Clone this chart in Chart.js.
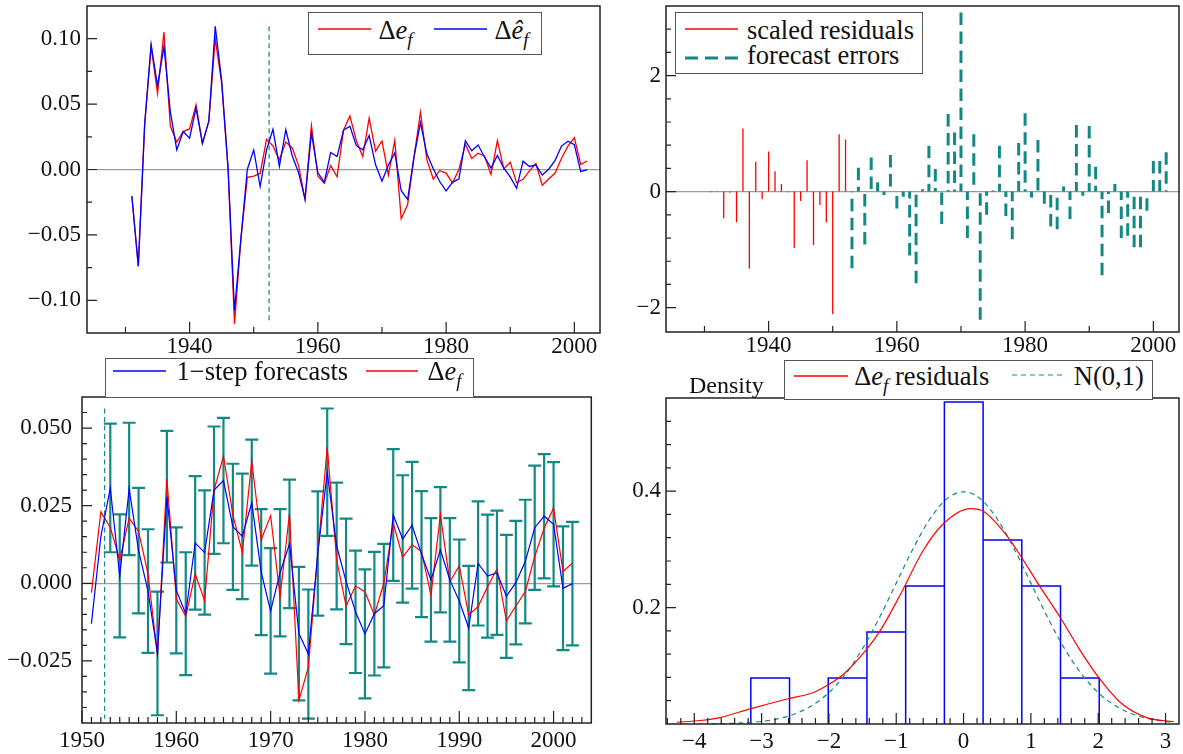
<!DOCTYPE html>
<html>
<head>
<meta charset="utf-8">
<script src="https://cdn.jsdelivr.net/npm/chart.js"></script>
<style>
  body { margin: 0; background: #fff; width: 1183px; height: 754px; position: relative; overflow: hidden;
         font-family: "Liberation Serif", "Times New Roman", serif; color: #111; }
  canvas { position: absolute; }
  .lg { position: absolute; background: #fff; border: 1.5px solid #555; box-sizing: border-box; font-size: 26.5px; line-height: 1; }
  .lg .t { position: absolute; white-space: nowrap; }
  .lg svg { position: absolute; overflow: visible; }
  sub { font-size: 0.72em; vertical-align: -0.38em; line-height: 0; }
  #density { position: absolute; left: 689px; top: 373px; font-size: 24px; line-height: 1; }
</style>
</head>
<body>
<canvas id="tl" width="610" height="370" style="left:0;top:0"></canvas>
<canvas id="tr" width="583" height="370" style="left:600px;top:0"></canvas>
<canvas id="bl" width="600" height="374" style="left:0;top:380px"></canvas>
<canvas id="br" width="583" height="374" style="left:600px;top:380px"></canvas>

<div class="lg" style="left:307.5px;top:11.5px;width:234px;height:43px">
  <svg style="left:9px;top:14.3px" width="53" height="4"><line x1="0" y1="2" x2="53" y2="2" stroke="#f00" stroke-width="1.3"/></svg>
  <span class="t" style="left:70px;top:4px">Δ<i>e</i><sub><i>f</i></sub></span>
  <svg style="left:125px;top:14.3px" width="53" height="4"><line x1="0" y1="2" x2="53" y2="2" stroke="#00f" stroke-width="1.3"/></svg>
  <span class="t" style="left:186px;top:4px">Δ<i>ê</i><sub><i>f</i></sub></span>
</div>

<div class="lg" style="left:675px;top:12px;width:248px;height:62px">
  <svg style="left:8.5px;top:13.8px" width="53" height="4"><line x1="0" y1="2" x2="53" y2="2" stroke="#f00" stroke-width="1.3"/></svg>
  <span class="t" style="left:71px;top:3.6px">scaled residuals</span>
  <svg style="left:8.5px;top:42.8px" width="53" height="4"><line x1="0" y1="2" x2="53" y2="2" stroke="#128984" stroke-width="3" stroke-dasharray="13 7"/></svg>
  <span class="t" style="left:71px;top:29.3px">forecast errors</span>
</div>

<div class="lg" style="left:104.5px;top:358px;width:369px;height:39.5px">
  <svg style="left:7.5px;top:10.2px" width="53" height="4"><line x1="0" y1="2" x2="53" y2="2" stroke="#00f" stroke-width="1.3"/></svg>
  <span class="t" style="left:71px;top:-1px">1−step forecasts</span>
  <svg style="left:260.5px;top:10.2px" width="52" height="4"><line x1="0" y1="2" x2="52" y2="2" stroke="#f00" stroke-width="1.3"/></svg>
  <span class="t" style="left:322px;top:-1px">Δ<i>e</i><sub><i>f</i></sub></span>
</div>

<div class="lg" style="left:784.3px;top:360px;width:368.5px;height:39.5px">
  <svg style="left:8.5px;top:12.5px" width="54" height="4"><line x1="0" y1="2" x2="54" y2="2" stroke="#f00" stroke-width="1.3"/></svg>
  <span class="t" style="left:69px;top:2.3px">Δ<i>e</i><sub><i>f</i></sub> residuals</span>
  <svg style="left:227px;top:11.5px" width="50" height="4"><line x1="0" y1="2" x2="50" y2="2" stroke="#128984" stroke-width="1.2" stroke-dasharray="5 4"/></svg>
  <span class="t" style="left:288.5px;top:2.3px">N(0,1)</span>
</div>

<span id="density">Density</span>

<script>
const TEAL = '#128984';
const RED = '#ff0000';
const BLUE = '#0000ff';
const FONT = '"Liberation Serif", "Times New Roman", serif';

// ---- data ----
const firstYear = 1931;
// Δe_f, actual values 1931-2002
const deltaEf = [
  -0.0205, -0.074, 0.035, 0.094, 0.058, 0.105, 0.033, 0.021, 0.029, 0.031,
  0.0495, 0.020, 0.037, 0.100, 0.066, 0.001, -0.118, -0.053, -0.006, -0.005,
  -0.003, 0.023, 0.018, 0.0075, 0.021, 0.0167, 0.003, -0.023, 0.0336, -0.005,
  -0.0106, 0.003, -0.0056, 0.030, 0.041, 0.022, 0.0099, 0.0393, 0.014, 0.0218,
  -0.0043, 0.0224, -0.0377, -0.027, 0.0097, 0.0438, 0.0075, -0.0073, -0.0009, -0.0027,
  -0.0102, 0.0, 0.0194, 0.0084, 0.0124, 0.0102, -0.0038, 0.0221, 0.0005, 0.0056,
  -0.0102, -0.0075, -0.0011, 0.0046, -0.0121, -0.0073, -0.0027, 0.0086, 0.0178, 0.0242,
  0.0038, 0.0065
];
// fitted values / 1-step forecasts 1931-2002
const deltaEfHat = [
  -0.0205, -0.074, 0.035, 0.0956, 0.064, 0.094, 0.044, 0.015, 0.029, 0.024,
  0.047, 0.020, 0.037, 0.1095, 0.068, 0.001, -0.108, -0.053, 0.0, 0.015,
  -0.013, 0.015, 0.0307, 0.0024, 0.0304, 0.0105, -0.0025, -0.0226, 0.0279, -0.0023,
  -0.0098, 0.013, 0.0099, 0.030, 0.0331, 0.0182, 0.0151, 0.026, 0.0036, -0.0089,
  0.0034, 0.0127, -0.0162, -0.0228, 0.0096, 0.0358, 0.012, 0.0006, -0.0092, -0.0163,
  -0.0098, -0.0072, 0.022, 0.0143, 0.0187, 0.0094, 0.0011, 0.0108, 0.0011, -0.0057,
  -0.0144, 0.0064, 0.0023, 0.0034, -0.0042, 0.0002, 0.007, 0.0179, 0.0216, 0.019,
  -0.0016, -0.0001
];
const forecastStart = 1952.4;
const forecastFirstYear = 1953;
const plotFirstYear = 1951;
// half width of the error bands (2 s.e.) 1953-2002
const fcHalfWidth = [
  0.0207, 0.0198, 0.0213, 0.0202, 0.0199, 0.0199, 0.0212, 0.0203, 0.0198, 0.0215,
  0.0200, 0.0205, 0.0202, 0.0203, 0.0202, 0.0203, 0.0203, 0.0202, 0.0205, 0.0207,
  0.0215, 0.0208, 0.0200, 0.0205, 0.0204, 0.0202, 0.0197, 0.0208, 0.0199, 0.0199,
  0.0212, 0.0205, 0.0204, 0.0203, 0.0199, 0.0202, 0.0199, 0.0198, 0.0200, 0.0200,
  0.0198, 0.0200, 0.0198, 0.0199, 0.0199, 0.0200, 0.0200, 0.0200, 0.0199, 0.0199
];
// scaled residuals 1931-1952
const scaledResiduals = [
  -0.01, 0.01, -0.46, -0.02, -0.53, 1.09, -1.33, 0.51, -0.13, 0.69,
  0.35, 0.13, -0.01, -0.97, -0.16, 0.54, -0.92, -0.23, -0.53, -2.11,
  0.99, 0.90
];
// forecast errors 1953-2002
const forecastErrors = [
  -1.32, 0.41, -0.91, 0.59, 0.16, -0.06, 0.63, -0.29, -0.09, -1.10,
  -1.58, 0.04, 0.79, 0.39, -0.56, 1.34, 1.02, 3.09, -0.80, 0.99,
  -2.21, -0.40, 0.02, 0.79, -0.42, -0.82, 0.84, 1.35, -0.10, 0.89,
  -0.21, -0.60, -0.65, 0.09, -0.47, 1.15, -0.07, 1.13, 0.43, -1.44,
  -0.37, 0.13, -0.80, -0.76, -0.96, -0.96, -0.33, 0.53, 0.53, 0.68
];
// histogram of residuals
const binEdges = [-3.16, -2.585, -2.01, -1.435, -0.86, -0.285, 0.29, 0.865, 1.44, 2.015];
const binDensity = [0.079, 0, 0.079, 0.158, 0.237, 0.553, 0.316, 0.237, 0.079];
// estimated density (red)
const kdeX = [-4.26, -3.91, -3.62, -3.17, -2.62, -2.23, -2.03, -1.78, -1.45, -1.24, -0.94,
  -0.6, -0.3, 0.1, 0.3, 0.645, 0.862, 1.14, 1.437, 1.734, 2.006, 2.33, 2.72, 3.12];
const kdeY = [0.003, 0.006, 0.011, 0.026, 0.043, 0.054, 0.066, 0.086, 0.127, 0.16, 0.222,
  0.298, 0.344, 0.370, 0.365, 0.323, 0.286, 0.235, 0.183, 0.126, 0.080, 0.037, 0.011, 0.004];
// N(0,1) reference (dashed)
const normX = [-3.75, -3.5, -3.25, -3, -2.75, -2.5, -2.25, -2, -1.75, -1.5, -1.25, -1, -0.75, -0.5, -0.25, 0,
  0.25, 0.5, 0.75, 1, 1.25, 1.5, 1.75, 2, 2.25, 2.5, 2.75, 3, 3.1];
const normY = [0.0004, 0.0009, 0.002, 0.0044, 0.0091, 0.0175, 0.0317, 0.054, 0.0863, 0.1295, 0.1827, 0.242,
  0.3011, 0.3521, 0.3867, 0.3989, 0.3867, 0.3521, 0.3011, 0.242, 0.1827, 0.1295, 0.0863, 0.054, 0.0317,
  0.0175, 0.0091, 0.0044, 0.0033];

// ---- tick labels ----
const topYearTicks = [1940, 1960, 1980, 2000];
const topYearMinor = [1930, 1950, 1970, 1990];
const tlValueTicks = [-0.1, -0.05, 0, 0.05, 0.1];
const tlValueMinor = [-0.075, -0.025, 0.025, 0.075];
const trValueTicks = [-2, 0, 2];
const trValueMinor = [-1.6, -1.2, -0.8, -0.4, 0.4, 0.8, 1.2, 1.6, 2.4, 2.8];
const blYearTicks = [1950, 1960, 1970, 1980, 1990, 2000];
const blValueTicks = [-0.025, 0, 0.025, 0.05];
const brXTicks = [-4, -3, -2, -1, 0, 1, 2, 3];
const brYTicks = [0.2, 0.4];

function range(from, to, step) {
  const out = [];
  for (let v = from; v <= to + 1e-9; v += step) out.push(+v.toFixed(6));
  return out;
}
function without(list, skip) {
  return list.filter(v => !skip.some(s => Math.abs(s - v) < 1e-9));
}
const blYearMinor = without(range(1951, 2003, 1), blYearTicks);
const blValueMinor = without(range(-0.04, 0.055, 0.005), blValueTicks);
const brXMinor = without(range(-4.4, 3.0, 0.2), brXTicks);
const brYMinor = without(range(0.04, 0.52, 0.04), brYTicks);

function fmt(v, d) { return v.toFixed(d).replace('-', '\u2212'); }

function axis(min, max, ticks, digits, size, pad, zero) {
  return {
    type: 'linear', min: min, max: max,
    afterBuildTicks: a => { a.ticks = ticks.map(value => ({ value })); },
    afterFit: a => {
      // fixed axis size, no extra room for labels at the ends
      if (a.isHorizontal()) { a.height = size; a.paddingLeft = 0; a.paddingRight = 0; }
      else { a.width = size; a.paddingTop = 0; a.paddingBottom = 0; }
    },
    border: { display: false },
    grid: {
      display: !!zero, drawTicks: false, lineWidth: 1.3,
      color: c => (c.tick && c.tick.value === 0) ? '#9c9c9c' : 'rgba(0,0,0,0)'
    },
    ticks: {
      padding: pad, color: '#111', autoSkip: false, maxRotation: 0,
      font: { family: FONT, size: 23 },
      callback: v => fmt(v, digits)
    }
  };
}

// box round the plot and ticks pointing inwards
function frame(xMajor, xMinor, yMajor, yMinor, xLen, yLen) {
  return {
    id: 'frame',
    afterDatasetsDraw(chart) {
      const { ctx, chartArea: a } = chart;
      const x = chart.scales.x, y = chart.scales.y;
      ctx.save();
      ctx.strokeStyle = '#222';
      ctx.lineWidth = 1.2;
      ctx.beginPath();
      [[xMajor, xLen[0]], [xMinor, xLen[1]]].forEach(([vals, len]) => vals.forEach(v => {
        const p = x.getPixelForValue(v);
        ctx.moveTo(p, a.bottom); ctx.lineTo(p, a.bottom - len);
      }));
      [[yMajor, yLen[0]], [yMinor, yLen[1]]].forEach(([vals, len]) => vals.forEach(v => {
        const p = y.getPixelForValue(v);
        ctx.moveTo(a.left, p); ctx.lineTo(a.left + len, p);
      }));
      ctx.stroke();
      ctx.lineWidth = 1.5;
      ctx.strokeRect(a.left, a.top, a.right - a.left, a.bottom - a.top);
      ctx.restore();
    }
  };
}

function baseOptions(padding, xAxis, yAxis) {
  return {
    responsive: false, animation: false, devicePixelRatio: 1, events: [],
    layout: { padding: padding },
    plugins: { legend: { display: false }, tooltip: { enabled: false } },
    elements: { point: { radius: 0 }, line: { tension: 0 } },
    scales: { x: xAxis, y: yAxis }
  };
}

const years = deltaEf.map((_, i) => firstYear + i);
const pts = (xs, ys) => xs.map((x, i) => ({ x: x, y: ys[i] }));
// vertical sticks from the value back to zero, broken by gaps
const sticks = (x0, vals) => vals.flatMap((v, i) => [{ x: x0 + i, y: v }, { x: x0 + i, y: 0 }, { x: x0 + i, y: null }]);

// ---- top left: actual and fitted ----
const allTop = deltaEf.concat(deltaEfHat);
new Chart(document.getElementById('tl'), {
  type: 'line',
  data: {
    datasets: [
      { data: pts(years, deltaEfHat), borderColor: BLUE, borderWidth: 1.3 },
      { data: pts(years, deltaEf), borderColor: RED, borderWidth: 1.3 },
      { data: [{ x: forecastStart, y: Math.max(...allTop) }, { x: forecastStart, y: Math.min(...allTop) }],
        borderColor: TEAL, borderWidth: 1.2, borderDash: [5, 3.5] }
    ]
  },
  options: baseOptions({ top: 6, right: 10, left: 0, bottom: 0 },
    axis(1924, 2004, topYearTicks, 0, 37, 0, false),
    axis(-0.125, 0.125, tlValueTicks, 2, 87, 6, true)),
  plugins: [frame(topYearTicks, topYearMinor, tlValueTicks, tlValueMinor, [11, 6], [10, 5])]
});

// ---- top right: residuals and forecast errors ----
new Chart(document.getElementById('tr'), {
  type: 'line',
  data: {
    datasets: [
      { data: sticks(firstYear, scaledResiduals), borderColor: RED, borderWidth: 1.3 },
      { data: sticks(forecastFirstYear, forecastErrors), borderColor: TEAL, borderWidth: 3, borderDash: [12.5, 6.5] }
    ]
  },
  options: baseOptions({ top: 6, right: 4, left: 0, bottom: 0 },
    axis(1924, 2004, topYearTicks, 0, 38, 0, false),
    axis(-2.42, 3.2, trValueTicks, 0, 66, 5, true)),
  plugins: [frame(topYearTicks, topYearMinor, trValueTicks, trValueMinor, [11, 6], [10, 5])]
});

// ---- bottom left: 1-step forecasts with error bars ----
const off = plotFirstYear - firstYear;
const fcOff = forecastFirstYear - firstYear;
const fcYears = fcHalfWidth.map((_, i) => forecastFirstYear + i);
const fcCentre = deltaEfHat.slice(fcOff);
const fcLow = fcCentre.map((v, i) => v - fcHalfWidth[i]);
const fcHigh = fcCentre.map((v, i) => v + fcHalfWidth[i]);
const errBars = fcYears.flatMap((x, i) => [{ x: x, y: fcLow[i] }, { x: x, y: fcHigh[i] }, { x: x, y: null }]);
const capStyle = { showLine: false, pointStyle: 'line', pointRadius: 6.5, pointBorderWidth: 2.2,
  pointBorderColor: TEAL, borderColor: TEAL };
new Chart(document.getElementById('bl'), {
  type: 'line',
  data: {
    datasets: [
      { data: pts(years.slice(off), deltaEfHat.slice(off)), borderColor: BLUE, borderWidth: 1.2 },
      { data: pts(years.slice(off), deltaEf.slice(off)), borderColor: RED, borderWidth: 1.2 },
      { data: errBars, borderColor: TEAL, borderWidth: 2.2 },
      Object.assign({ data: pts(fcYears, fcHigh) }, capStyle),
      Object.assign({ data: pts(fcYears, fcLow) }, capStyle),
      { data: [{ x: forecastStart, y: Math.max(...fcHigh) }, { x: forecastStart, y: Math.min(...fcLow) }],
        borderColor: TEAL, borderWidth: 1.2, borderDash: [5, 3.5] }
    ]
  },
  options: baseOptions({ top: 17, right: 5, left: 0, bottom: 0 },
    axis(1950, 2004, blYearTicks, 0, 31, 4, false),
    axis(-0.045, 0.06, blValueTicks, 3, 82, 10, true)),
  plugins: [frame(blYearTicks, blYearMinor, blValueTicks, blValueMinor, [12, 6], [10, 5])]
});

// ---- bottom right: histogram and densities ----
const histOutline = binDensity.flatMap((d, i) => d > 0
  ? [{ x: binEdges[i], y: 0 }, { x: binEdges[i], y: d }, { x: binEdges[i + 1], y: d },
     { x: binEdges[i + 1], y: 0 }, { x: binEdges[i + 1], y: null }]
  : []);
new Chart(document.getElementById('br'), {
  type: 'line',
  data: {
    datasets: [
      { data: pts(kdeX, kdeY), borderColor: RED, borderWidth: 1.2, cubicInterpolationMode: 'monotone' },
      { data: pts(normX, normY), borderColor: TEAL, borderWidth: 1.2, borderDash: [5, 4], cubicInterpolationMode: 'monotone' },
      { data: histOutline, borderColor: BLUE, borderWidth: 1.5 }
    ]
  },
  options: baseOptions({ top: 18, right: 4, left: 0, bottom: 0 },
    axis(-4.42, 3.2, brXTicks, 0, 30, 4, false),
    axis(0, 0.56, brYTicks, 1, 66, 5, false)),
  plugins: [frame(brXTicks, brXMinor, brYTicks, brYMinor, [11, 6], [10, 5])]
});
</script>
</body>
</html>
